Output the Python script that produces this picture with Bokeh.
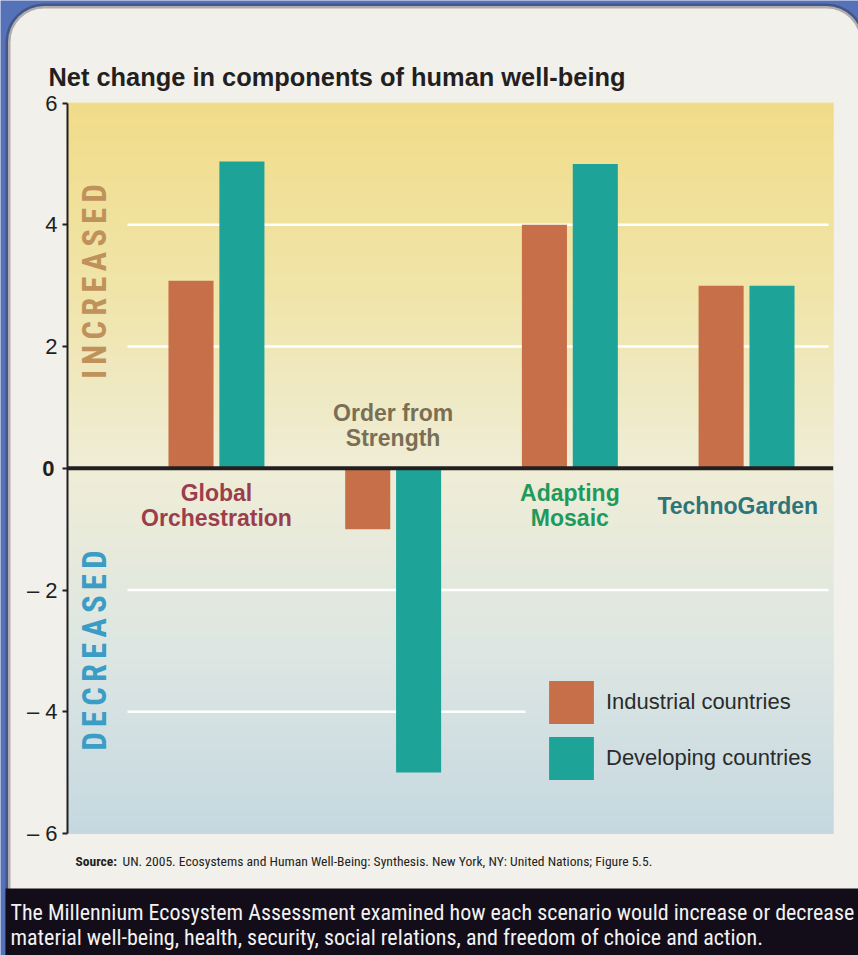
import numpy as np
from bokeh.plotting import figure
from bokeh.models import Range1d, Legend, LegendItem, FixedTicker, LinearAxis, BoxAnnotation
from bokeh.embed import file_html
from bokeh.resources import INLINE
from bokeh.core.properties import value

# ---------------- data ----------------
scenarios = ["Global Orchestration", "Order from Strength", "Adapting Mosaic", "TechnoGarden"]
scenario_labels = ["Global\nOrchestration", "Order from\nStrength", "Adapting\nMosaic", "TechnoGarden"]
industrial = [3.08, -1.0, 4.0, 3.0]
developing = [5.04, -5.0, 5.0, 3.0]
series_names = ["Industrial countries", "Developing countries"]
y_ticks = [-6, -4, -2, 0, 2, 4, 6]
y_tick_labels = ["\u2013 6", "\u2013 4", "\u2013 2", "0", "2", "4", "6"]
grid_values = [4, 2, -2, -4]
title_text = "Net change in components of human well-being"
source_bold = "Source:"
source_rest = "UN. 2005. Ecosystems and Human Well-Being: Synthesis. New York, NY: United Nations; Figure 5.5."
caption_lines = ["The Millennium Ecosystem Assessment examined how each scenario would increase or decrease",
                 "material well-being, health, security, social relations, and freedom of choice and action."]

# ---------------- style ----------------
BLUE = "#5571b8"
PANEL = "#f1f0eb"
DARK = "#130d1a"
ORANGE = "#c76f48"
TEAL = "#1ea398"
INK = "#231f20"
label_colors = ["#9b3e4c", "#7a6f55", "#1f9a5c", "#2f7479"]
SANS = "Liberation Sans, Arial, Helvetica, sans-serif"
COND = "Roboto Condensed, Liberation Sans Narrow, Liberation Sans, sans-serif"

W, H = 858, 955
PXU_X, PXU_Y = 176.7, 60.86
def X(px):
    return -0.843 + (px - 67.0) / PXU_X
def Y(px):
    return (467.8 - px) / PXU_Y

x_start, x_end = -0.843, X(832.7)
offset, bar_w = 0.144, 0.255

p = figure(width=W, height=H,
           x_range=Range1d(X(0), X(W)), y_range=Range1d(Y(H), Y(0)),
           output_backend="svg", toolbar_location=None,
           x_axis_location=None, y_axis_location=None, min_border=0,
           border_fill_color=BLUE, background_fill_color=BLUE, outline_line_color=None)
p.grid.visible = False

# rounded panel
p.add_layout(BoxAnnotation(left=X(7.5), right=X(862), top=Y(5.5), bottom=Y(990),
                           fill_color=PANEL, fill_alpha=1.0, line_color="#1b1320", line_width=5,
                           border_radius=36, level="underlay"))

# background gradient of the chart area (decoration)
stops_y = [-6, -3, 0, 3, 6]
stops_c = [(197, 216, 225), (221, 230, 226), (239, 237, 214), (240, 228, 168), (241, 220, 137)]
ys = np.linspace(-6, 6, 121)
mids = (ys[:-1] + ys[1:]) / 2
cols = []
for m in mids:
    rgb = [int(round(np.interp(m, stops_y, [c[k] for c in stops_c]))) for k in range(3)]
    cols.append("#%02x%02x%02x" % tuple(rgb))
p.quad(left=x_start, right=x_end, bottom=ys[:-1], top=ys[1:], fill_color=cols, line_color=cols, line_width=1)

# grid lines (the lowest one stops short of the legend)
p.segment(x0=X(127), x1=[X(828), X(828), X(828), X(525)], y0=grid_values, y1=grid_values,
          line_color="white", line_width=2.5)

# bars
xs = np.arange(len(scenarios))
r1 = p.vbar(x=xs - offset, top=industrial, bottom=0, width=bar_w, fill_color=ORANGE, line_color=None)
r2 = p.vbar(x=xs + offset, top=developing, bottom=0, width=bar_w, fill_color=TEAL, line_color=None)

# zero line
p.segment(x0=[x_start], x1=[x_end], y0=[0], y1=[0], line_color=INK, line_width=4)

# scenario labels
label_x = [0.0, 1.0, 2.0, 2.95]
label_y = [Y(505), Y(425), Y(505), Y(505)]
p.text(x=label_x, y=label_y, text=scenario_labels, text_color=label_colors,
       text_font=value(SANS), text_font_style="bold", text_font_size="23px",
       text_align="center", text_baseline="middle", text_line_height=0.98)

# vertical INCREASED / DECREASED
sp = "\u2006"
p.text(x=[X(94.5), X(94.5)], y=[Y(281), Y(650)],
       text=[sp.join("INCREASED"), sp.join("DECREASED")],
       text_color=["#c0925b", "#3b9dc5"], angle=np.pi / 2,
       text_font=value(COND), text_font_style="bold", text_font_size="32.5px",
       text_align="center", text_baseline="middle")

# y axis at the chart's left edge
ax = LinearAxis(fixed_location=x_start, bounds=(-6, 6), ticker=FixedTicker(ticks=y_ticks))
ov = {t: l for t, l in zip(y_ticks, y_tick_labels)}
ov[0] = ""
ax.major_label_overrides = ov
ax.major_label_text_font = SANS
ax.major_label_text_font_size = "22px"
ax.major_label_text_color = INK
ax.major_label_standoff = 5
ax.axis_line_color = INK
ax.axis_line_width = 2
ax.major_tick_line_color = INK
ax.major_tick_line_width = 2
ax.major_tick_out = 5
ax.major_tick_in = 0
ax.minor_tick_line_color = None
p.add_layout(ax, "left")

# bold zero label
p.text(x=[X(54)], y=[0], text=["0"], text_align="right", text_baseline="middle",
       text_font=value(SANS), text_font_style="bold", text_font_size="22px", text_color=INK)

# title
p.text(x=[X(48)], y=[Y(76)], text=[title_text], text_align="left", text_baseline="alphabetic",
       text_font=value(SANS), text_font_style="bold", text_font_size="25.4px", text_color=INK)

# source
p.text(x=[X(75)], y=[Y(860)], text=[source_bold], text_align="left", text_baseline="middle",
       text_font=value(COND), text_font_style="bold", text_font_size="13.5px", text_color=INK)
p.text(x=[X(122)], y=[Y(860)], text=[source_rest], text_align="left", text_baseline="middle",
       text_font=value(COND), text_font_size="13.6px", text_color=INK)

# caption band
p.quad(left=[X(5)], right=[X(W + 5)], top=[Y(888)], bottom=[Y(H + 5)], fill_color=DARK, line_color=None)
p.text(x=[X(10), X(10)], y=[Y(912), Y(937)], text=caption_lines, text_color="#f2f2f2",
       text_font=value(COND), text_font_size="22px", text_align="left", text_baseline="middle")

# legend
legend = Legend(items=[LegendItem(label=series_names[0], renderers=[r1]),
                       LegendItem(label=series_names[1], renderers=[r2])],
                location=(543, H - 784.5), orientation="vertical",
                glyph_width=56, glyph_height=54, label_height=54, spacing=2, label_standoff=7,
                padding=0, margin=0, background_fill_alpha=0.0,
                border_line_color=None, label_text_font=SANS, label_text_font_size="22px",
                label_text_color="#2b2b2b")
p.add_layout(legend)

open("out.html", "w").write(file_html(p, INLINE))
